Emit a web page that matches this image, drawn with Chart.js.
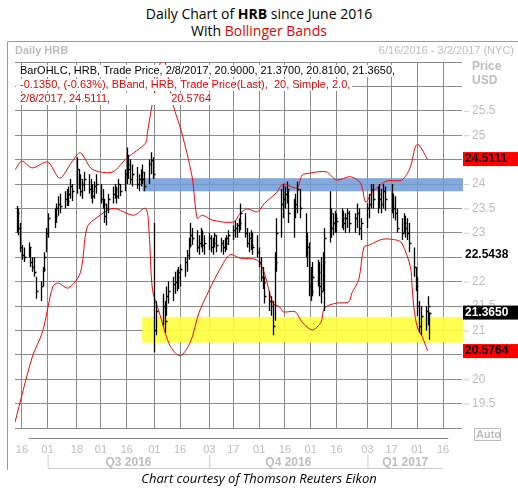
<!DOCTYPE html>
<html lang="en">
<head>
<meta charset="UTF-8">
<title>Daily Chart of HRB</title>
<script src="https://cdn.jsdelivr.net/npm/chart.js"></script>
<style>
  body { margin: 0; width: 518px; height: 490px; background: #fff; font-family: "Open Sans", Arial, sans-serif; position: relative; overflow: hidden; }
  .title { position: absolute; left: 0; width: 518px; text-align: center; font-size: 14px; color: #000; }
  .footer { position: absolute; left: 0; width: 518px; top: 469px; text-align: center; font-size: 13px; font-style: italic; }
  #wrap { position: absolute; left: 0; top: 40px; width: 518px; height: 430px; }
</style>
</head>
<body>
<div class="title" style="top:4px">Daily Chart of <b>HRB</b> since June 2016</div>
<div class="title" style="top:21px">With <span style="color:#e00">Bollinger Bands</span></div>
<div id="wrap"><canvas id="c"></canvas></div>
<div class="footer">Chart courtesy of Thomson Reuters Eikon</div>
<script>
// x values are calendar days counted from 6/16/2016
const tickDays = [0, 15, 32, 46, 61, 77, 92, 109, 123, 138, 153, 168, 183, 201, 215, 230, 245];
const tickLabels = ['16','01','18','01','16','01','16','03','17','01','16','01','16','03','17','01','16'];
const quarters = [['Q3 2016', 15, 109], ['Q4 2016', 109, 201], ['Q1 2017', 201, 245]];

const barDays = [-3,-2,-1,0,1,4,5,6,7,8,11,12,13,14,
  15,19,20,21,22,25,26,27,28,29,32,33,34,35,36,39,40,41,42,43,
  46,47,48,49,50,53,54,55,56,57,60,61,62,63,64,67,68,69,70,71,74,75,76,
  77,78,82,83,84,85,88,89,90,91,92,95,96,97,98,99,102,103,104,105,106,
  109,110,111,112,113,116,117,118,119,120,123,124,125,126,127,130,131,132,133,134,137,
  138,139,140,141,144,145,146,147,148,151,152,153,154,155,158,159,160,162,165,166,167,
  168,169,172,173,174,175,176,179,180,181,182,183,186,187,188,189,190,194,195,196,197,
  201,202,203,204,207,208,209,210,211,215,216,217,218,221,222,223,224,225,228,229,
  230,231,232,235,236,237];
const barHigh = [23.55,23.5,23.2,22.75,22.7,22.8,22.7,22.5,22.5,22.1,22.0,22.3,22.6,23.1,
  23.4,23.5,23.6,23.75,23.8,23.85,23.9,23.95,24.1,24.0,24.55,24.3,24.2,24.1,24.25,24.2,24.1,24.0,24.05,24.2,
  24.0,23.9,23.7,23.6,23.8,23.95,24.0,23.95,24.1,24.0,24.3,24.75,24.6,24.5,24.4,24.35,24.2,24.3,24.4,24.25,24.5,24.65,24.55,
  23.2,21.6,21.75,21.6,21.9,22.0,22.1,22.2,22.25,22.3,22.35,22.5,22.65,22.9,23.2,23.1,23.05,22.95,23.1,23.05,22.95,
  23.0,22.95,22.9,23.0,22.95,22.9,22.85,22.9,22.95,23.05,23.15,23.25,23.2,23.3,23.6,23.4,23.1,23.0,23.05,23.0,22.95,
  22.7,22.5,22.3,22.1,21.8,21.7,21.6,22.6,23.3,23.9,24.0,23.95,24.05,23.9,23.7,23.8,24.05,23.9,23.4,23.0,22.8,
  22.3,22.4,22.45,22.4,22.5,22.6,23.1,23.85,23.5,23.4,23.45,23.4,23.5,23.45,23.4,23.5,23.45,23.4,23.6,23.5,23.3,
  23.6,23.8,24.0,24.0,23.95,24.0,23.9,24.0,23.95,24.0,23.8,23.75,23.5,23.3,23.4,23.35,23.3,23.2,22.7,22.3,
  22.1,21.6,21.5,21.5,21.7,21.37];
const barLow = [23.0,22.95,22.6,22.45,22.4,22.5,22.3,22.2,22.1,21.65,21.6,21.9,22.2,22.6,
  22.9,23.1,23.2,23.35,23.4,23.5,23.55,23.55,23.7,23.65,23.8,23.9,23.75,23.7,23.85,23.8,23.7,23.6,23.7,23.8,
  23.6,23.5,23.2,23.15,23.4,23.6,23.7,23.6,23.7,23.75,23.85,24.0,24.1,24.0,23.95,23.9,23.85,23.95,24.0,23.85,24.0,24.2,24.1,
  20.55,20.9,21.1,20.95,21.3,21.55,21.6,21.75,21.8,21.85,21.9,22.1,22.2,22.45,22.7,22.75,22.6,22.55,22.7,22.6,22.55,
  22.65,22.6,22.55,22.7,22.6,22.6,22.55,22.6,22.65,22.75,22.85,22.9,22.9,23.0,23.05,22.9,22.7,22.6,22.65,22.55,22.5,
  22.3,22.0,21.85,21.55,21.4,21.3,20.9,21.2,22.2,22.9,23.3,23.5,23.6,23.2,22.9,23.3,23.4,23.3,22.5,22.3,21.7,
  21.6,21.7,21.9,21.7,21.55,21.8,21.4,22.8,22.9,22.95,23.0,23.0,23.1,23.05,23.0,23.1,23.0,23.0,23.1,22.95,22.85,
  23.1,23.3,23.5,23.5,23.4,23.5,23.4,23.5,23.45,23.4,23.3,23.25,23.0,22.85,23.0,22.9,22.85,22.6,22.1,21.8,
  21.3,20.95,20.9,21.0,21.1,20.81];
const barClose = [23.4,23.1,22.7,22.55,22.5,22.7,22.4,22.3,22.2,21.8,21.9,22.25,22.5,23.0,
  23.3,23.35,23.5,23.6,23.55,23.7,23.65,23.8,23.95,23.85,24.3,24.1,23.85,24.0,24.1,23.9,23.85,23.75,23.95,24.0,
  23.7,23.6,23.35,23.5,23.7,23.8,23.9,23.75,24.0,23.85,24.2,24.4,24.3,24.1,24.2,24.0,24.1,24.25,24.1,23.95,24.4,24.5,24.2,
  21.0,21.4,21.5,21.2,21.7,21.8,21.95,22.0,22.1,22.2,22.25,22.4,22.55,22.75,22.95,22.9,22.7,22.8,23.0,22.75,22.8,
  22.9,22.7,22.8,22.95,22.75,22.8,22.7,22.8,22.9,22.95,23.05,23.1,23.15,23.2,23.4,23.0,22.8,22.9,22.75,22.7,22.6,
  22.4,22.1,22.0,21.7,21.6,21.5,21.1,22.4,23.0,23.6,23.7,23.8,23.9,23.4,23.5,23.6,23.9,23.5,22.6,22.7,21.9,
  21.8,22.1,22.2,21.9,21.8,22.4,22.9,23.4,23.1,23.2,23.3,23.25,23.3,23.2,23.3,23.4,23.2,23.3,23.4,23.1,23.2,
  23.5,23.6,23.9,23.7,23.8,23.7,23.6,23.85,23.7,23.6,23.5,23.4,23.1,23.0,23.2,23.1,23.0,22.8,22.3,21.9,
  21.5,21.1,21.3,21.4,21.5,21.365];

const upperDays = [-4,0,6,15,22,29,34,40,45,53,61,72,73,76,82,88,93,99,102,105,111,123,127,131,137,141,148,152,160,163,167,177,183,191,197,200,204,212,221,226,229,231,236];
const upperBand = [24.29,24.47,24.33,24.45,24.12,24.45,24.64,24.33,24.25,24.25,24.53,24.84,25.05,25.66,26.6,25.62,25.05,24.15,23.3,23.36,23.26,23.22,23.4,23.49,23.43,23.6,23.82,24.0,23.92,24.18,24.22,24.25,24.08,24.15,24.02,23.63,23.84,24.06,24.08,24.35,24.78,24.8,24.5];
const lowerDays = [-4,6,12,18,21,27,34,38,44,53,65,72,74,76,80,86,92,98,103,109,115,121,127,137,141,146,150,152,159,163,169,174,176,183,190,192,196,199,202,210,218,221,226,227,228,230,233,236];
const lowerBand = [19.12,20.45,20.97,21.9,21.97,21.87,22.18,23.12,23.32,23.5,23.36,23.5,23.0,21.83,21.36,20.7,20.48,20.76,21.36,21.83,22.24,22.55,22.48,22.44,22.18,21.56,21.48,21.38,21.38,21.17,21.01,21.17,21.46,21.56,21.58,21.77,22.05,22.71,22.75,22.87,22.85,22.79,22.3,21.89,21.48,21.07,20.86,20.58];

// shaded zones: [fromDay, low, high, colour]
const zones = [[70, 23.85, 24.12, 'rgba(110,155,215,0.85)'], [70, 20.75, 21.28, 'rgba(255,255,60,0.9)']];
const yLabels = [19.5, 20, 20.5, 21, 21.5, 22, 23, 23.5, 24, 25, 25.5];
const badges = [[24.5111, '#f00', '#000'], [22.5438, '#fff', '#000'], [21.3650, '#000', '#fff'], [20.5764, '#f00', '#000']];
const legendLines = [
  ['BarOHLC, HRB, Trade Price, 2/8/2017, 20.9000, 21.3700, 20.8100, 21.3650,', '#000'],
  ['-0.1350, (-0.63%), BBand, HRB, Trade Price(Last),  20, Simple, 2.0,', '#e00'],
  ['2/8/2017, 24.5111,                    20.5764', '#e00']
];

const GRAY = '#bdbdbd';

const zonePlugin = {
  id: 'zones',
  beforeDatasetsDraw(chart) {
    const { ctx, chartArea: a, scales: { x, y } } = chart;
    ctx.save();
    zones.forEach(([d, lo, hi, col]) => {
      const x0 = x.getPixelForValue(d), y0 = y.getPixelForValue(hi), y1 = y.getPixelForValue(lo);
      ctx.fillStyle = col;
      ctx.fillRect(x0, y0, a.right + 1 - x0, y1 - y0);
    });
    ctx.restore();
  }
};

const ohlcPlugin = {
  id: 'ohlc',
  afterDatasetsDraw(chart) {
    const { ctx, scales: { x, y } } = chart;
    ctx.save();
    ctx.strokeStyle = '#000';
    ctx.lineWidth = 1.3;
    barDays.forEach((d, i) => {
      const px = Math.round(x.getPixelForValue(d)) + 0.5;
      ctx.beginPath();
      ctx.moveTo(px, y.getPixelForValue(barHigh[i]));
      ctx.lineTo(px, y.getPixelForValue(barLow[i]));
      const cy = Math.round(y.getPixelForValue(barClose[i])) + 0.5;
      ctx.moveTo(px, cy);
      ctx.lineTo(px + 2, cy);
      ctx.stroke();
    });
    ctx.restore();
  }
};

const decoPlugin = {
  id: 'deco',
  afterDraw(chart) {
    const { ctx, chartArea: a, scales: { x, y } } = chart;
    ctx.save();
    // frame and header
    ctx.strokeStyle = '#999';
    ctx.lineWidth = 1;
    ctx.beginPath();
    ctx.moveTo(7.5, 430); ctx.lineTo(7.5, 1.5); ctx.lineTo(518, 1.5);
    ctx.stroke();
    ctx.font = 'bold 11px "Liberation Sans", Arial';
    ctx.fillStyle = GRAY;
    ctx.textBaseline = 'middle';
    ctx.textAlign = 'left';
    ctx.fillText('Daily HRB', 15, 11);
    ctx.font = '11px "Liberation Sans", Arial';
    ctx.textAlign = 'right';
    ctx.fillText('6/16/2016 - 3/2/2017 (NYC)', 514, 11);
    ctx.font = 'bold 12px "Liberation Sans", Arial';
    ctx.textAlign = 'left';
    ctx.fillText('Price', 472, 27);
    ctx.fillText('USD', 472, 41);
    // legend text
    ctx.font = '11px "Liberation Sans", Arial';
    legendLines.forEach(([t, c], i) => {
      const ly = a.top + 9 + i * 14;
      const w = ctx.measureText(t).width;
      ctx.fillStyle = '#fff';
      ctx.fillRect(a.left + 1, ly - 6, w + 6, 12);
      ctx.fillStyle = c;
      ctx.fillText(t, a.left + 5, ly);
    });
    // x labels
    ctx.fillStyle = GRAY;
    ctx.textAlign = 'center';
    tickDays.forEach((d, i) => ctx.fillText(tickLabels[i], x.getPixelForValue(d), a.bottom + 22));
    ctx.strokeStyle = '#888';
    ctx.beginPath();
    ctx.moveTo(x.getPixelForValue(4), a.bottom + 10.5); ctx.lineTo(x.getPixelForValue(248), a.bottom + 10.5);
    ctx.stroke();
    ctx.strokeStyle = '#ccc';
    ctx.font = 'bold 12px "Liberation Sans", Arial';
    quarters.forEach(([q, d0, d1]) => {
      const x0 = x.getPixelForValue(d0), x1 = x.getPixelForValue(d1);
      ctx.beginPath();
      ctx.moveTo(x0 + 0.5, a.bottom + 27); ctx.lineTo(x0 + 0.5, a.bottom + 40.5); ctx.lineTo(x1, a.bottom + 40.5);
      ctx.stroke();
      ctx.fillText(q, (x0 + x1) / 2, a.bottom + 35);
    });
    // y labels
    ctx.font = '12px "Liberation Sans", Arial';
    ctx.textAlign = 'left';
    yLabels.forEach(v => {
      const py = y.getPixelForValue(v);
      ctx.beginPath(); ctx.moveTo(a.right + 2, py + 0.5); ctx.lineTo(a.right + 7, py + 0.5); ctx.stroke();
      ctx.fillText(String(v), a.right + 10, py);
    });
    ctx.strokeStyle = GRAY;
    ctx.strokeRect(474.5, a.bottom + 0.5, 26, 12);
    ctx.font = 'bold 11px "Liberation Sans", Arial';
    ctx.fillText('Auto', 476, a.bottom + 7);
    // value badges
    ctx.font = 'bold 12px "Liberation Sans", Arial';
    badges.forEach(([v, bg, fg]) => {
      const py = y.getPixelForValue(v);
      ctx.fillStyle = bg;
      ctx.fillRect(a.right + 1, py - 7, 518 - a.right, 14);
      ctx.fillStyle = fg;
      ctx.fillText(v.toFixed(4), a.right + 3, py);
    });
    ctx.restore();
  }
};

new Chart(document.getElementById('c'), {
  type: 'line',
  data: {
    datasets: [
      { data: upperDays.map((d, i) => ({ x: d, y: upperBand[i] })), borderColor: '#f00', borderWidth: 1, pointRadius: 0, tension: 0.3 },
      { data: lowerDays.map((d, i) => ({ x: d, y: lowerBand[i] })), borderColor: '#f00', borderWidth: 1, pointRadius: 0, tension: 0.3 }
    ]
  },
  options: {
    responsive: true,
    maintainAspectRatio: false,
    animation: false,
    layout: { padding: { left: 15, top: 22, right: 56, bottom: 42 } },
    plugins: { legend: { display: false }, tooltip: { enabled: false } },
    scales: {
      x: {
        type: 'linear', min: -4, max: 256,
        afterBuildTicks: s => { s.ticks = tickDays.map(v => ({ value: v })); },
        ticks: { display: false },
        grid: { color: '#8a8a8a', drawTicks: false },
        border: { display: false }
      },
      y: {
        position: 'right', min: 19, max: 26.5,
        ticks: { display: false, stepSize: 0.5 },
        grid: { color: '#8a8a8a', drawTicks: false },
        border: { display: false }
      }
    }
  },
  plugins: [zonePlugin, ohlcPlugin, decoPlugin]
});
</script>
</body>
</html>
